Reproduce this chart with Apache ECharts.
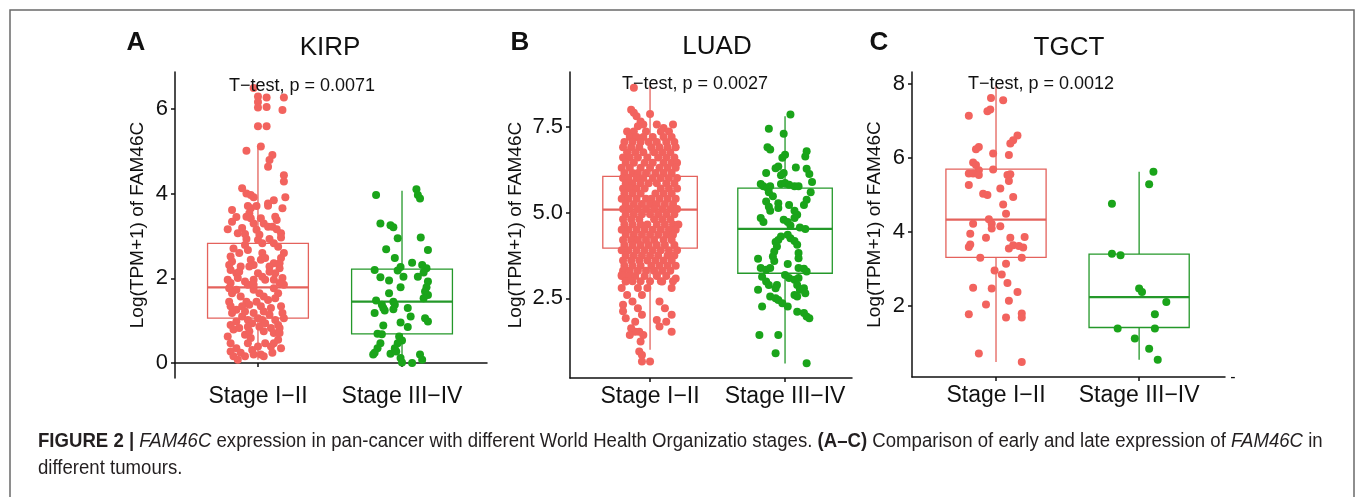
<!DOCTYPE html>
<html>
<head>
<meta charset="utf-8">
<script src="https://cdn.jsdelivr.net/npm/echarts@6/dist/echarts.min.js"></script>
<style>
  html, body { margin: 0; padding: 0; background: #fff; }
  #chart { width: 1357px; height: 497px; }
</style>
</head>
<body>
<div id="chart"></div>
<script>
// categories / labels
const categories = ['Stage I−II', 'Stage III−IV'];
const cancers = ['KIRP', 'LUAD', 'TGCT'];
const letters = ['A', 'B', 'C'];
const pValues = ['0.0071', '0.0027', '0.0012'];
const yTitle = 'Log(TPM+1) of FAM46C';

// y tick labels
const kirpTicks = [0, 2, 4, 6];
const luadTicks = [2.5, 5.0, 7.5];
const tgctTicks = [2, 4, 6, 8];

// box stats: [x, lower whisker, q1, median, q3, upper whisker]
const kirpBox = [[1, 0.08, 1.06, 1.79, 2.83, 5.10], [2, 0.0, 0.69, 1.45, 2.22, 4.07]];
const luadBox = [[1, 1.0, 3.96, 5.08, 6.05, 8.7], [2, 0.6, 3.23, 4.52, 5.71, 7.8]];
const tgctBox = [[1, 0.49, 3.31, 4.33, 5.69, 7.95], [2, 0.55, 1.42, 2.24, 3.40, 5.62]];

// jittered points [x, value]
const kirpEarly = [
  [0.97, 6.5], [1.0, 6.3], [1.06, 6.28], [1.18, 6.28], [1.0, 6.17], [1.06, 6.05], [1.0, 6.04], [1.17, 5.98],
  [1.0, 5.6], [1.06, 5.6], [1.02, 5.12], [0.92, 5.02], [1.10, 4.92], [1.08, 4.80], [1.07, 4.64],
  [1.18, 4.44], [1.18, 4.29], [0.89, 4.13], [0.92, 4.01], [0.95, 3.97], [0.97, 3.92], [1.19, 3.92],
  [1.17, 3.66], [1.11, 3.85], [1.07, 3.77], [1.07, 3.72], [0.93, 3.71], [0.95, 3.66], [0.99, 3.71],
  [0.82, 3.62], [0.85, 3.45], [0.92, 3.46], [0.94, 3.54], [0.95, 3.42], [1.04, 3.30], [1.07, 3.22],
  [1.10, 3.22], [1.13, 3.16], [1.16, 3.07], [1.16, 2.97], [0.89, 3.19], [0.86, 3.07], [0.79, 3.16],
  [0.99, 3.15], [1.01, 3.03], [1.0, 2.91], [1.03, 2.83], [1.08, 2.93], [1.11, 2.83], [1.14, 2.75],
  [0.92, 2.93], [0.91, 2.79], [0.93, 2.67], [1.18, 2.60], [0.83, 2.71], [0.87, 2.60], [0.81, 2.52],
  [1.03, 2.60], [1.02, 2.44], [1.05, 2.48], [0.95, 2.44], [0.97, 2.32], [0.94, 2.28], [1.11, 2.36],
  [1.15, 2.24], [1.12, 2.12], [0.81, 2.20], [0.85, 2.12], [0.86, 2.01], [1.0, 2.12], [1.03, 2.04],
  [1.05, 1.97], [0.91, 1.93], [0.93, 1.85], [1.17, 2.01], [1.18, 1.85], [0.80, 1.77], [0.82, 1.65],
  [0.85, 1.73], [0.97, 1.73], [1.01, 1.65], [1.04, 1.57], [1.07, 1.49], [1.11, 1.77], [1.14, 1.65],
  [1.12, 1.53], [0.88, 1.57], [0.92, 1.45], [0.94, 1.38], [0.80, 1.45], [0.81, 1.34], [0.85, 1.26],
  [0.82, 1.18], [1.02, 1.34], [1.04, 1.22], [1.08, 1.14], [1.09, 1.30], [1.16, 1.34], [1.17, 1.18],
  [1.18, 1.06], [0.89, 1.10], [0.93, 1.02], [0.96, 0.94], [0.81, 0.90], [0.83, 0.79], [1.01, 0.86],
  [1.04, 0.75], [1.09, 0.83], [1.11, 0.71], [0.91, 0.67], [0.95, 0.59], [0.93, 0.47], [0.79, 0.63],
  [0.81, 0.47], [0.85, 0.35], [1.05, 0.47], [1.09, 0.39], [1.11, 0.47], [1.16, 0.35], [1.14, 0.55],
  [0.88, 0.24], [0.91, 0.16], [1.02, 0.20], [1.04, 0.16], [0.81, 0.27], [0.83, 0.16], [1.10, 0.24],
  [0.86, 0.08], [0.96, 0.31], [0.97, 0.20], [1.0, 0.39], [0.79, 1.97], [0.81, 1.89], [0.88, 2.28],
  [0.87, 2.16], [1.08, 2.28], [1.08, 2.16], [0.97, 1.97], [0.97, 1.85], [1.11, 1.97], [1.15, 1.89],
  [0.89, 1.34], [0.91, 1.22], [0.99, 1.45], [0.97, 1.18], [1.0, 1.06], [1.12, 1.02], [1.14, 0.90],
  [0.85, 0.98], [0.87, 0.83], [1.03, 1.02], [1.05, 0.94], [0.93, 0.86], [0.94, 0.75], [1.15, 0.83],
  [1.15, 0.71], [0.82, 2.40], [0.80, 2.32], [1.16, 2.48], [1.15, 2.36], [1.13, 3.38], [1.12, 3.46],
  [1.02, 3.42], [0.97, 3.30], [0.82, 3.34], [0.91, 3.05]
];
const kirpLate = [
  [1.82, 3.97], [2.10, 4.11], [2.11, 3.97], [2.125, 3.89], [1.85, 3.30], [1.92, 3.26], [1.94, 3.21],
  [2.13, 2.97], [1.97, 2.95], [2.18, 2.67], [1.89, 2.69], [1.95, 2.48], [2.07, 2.37], [2.14, 2.32],
  [1.99, 2.27], [1.97, 2.19], [1.81, 2.20], [2.17, 2.24], [2.15, 2.14], [2.11, 2.04], [1.85, 2.03],
  [2.01, 2.04], [1.91, 1.95], [2.18, 1.93], [2.17, 1.79], [2.16, 1.69], [1.99, 1.79], [2.18, 1.61],
  [2.15, 1.53], [1.91, 1.65], [1.82, 1.48], [1.86, 1.38], [1.87, 1.30], [1.94, 1.45], [1.95, 1.38],
  [1.94, 1.27], [1.81, 1.18], [2.04, 1.30], [1.88, 1.24], [2.06, 1.10], [2.16, 1.06], [2.18, 0.98],
  [1.99, 0.96], [1.87, 0.89], [2.04, 0.85], [1.83, 0.69], [1.86, 0.68], [1.98, 0.63], [2.00, 0.53],
  [1.97, 0.47], [1.85, 0.47], [1.83, 0.35], [1.81, 0.24], [1.80, 0.20], [1.92, 0.22], [1.99, 0.12],
  [2.00, 0.01], [2.07, 0.0], [2.125, 0.20], [2.14, 0.08], [1.95, 0.35], [1.96, 0.27]
];
const luadEarly = [
  [0.88, 8.63], [1.0, 7.87], [0.86, 7.99], [0.88, 7.90], [0.90, 7.80], [0.93, 7.65], [0.95, 7.56],
  [0.91, 7.51], [1.05, 7.56], [1.10, 7.46], [1.17, 7.56],
  [0.83, 7.36], [0.88, 7.36], [0.97, 7.36], [1.08, 7.36], [1.14, 7.36],
  [0.85, 7.20], [0.90, 7.20], [0.95, 7.20], [1.02, 7.20], [1.10, 7.20], [1.16, 7.20],
  [0.81, 7.05], [0.87, 7.05], [0.93, 7.05], [0.99, 7.05], [1.05, 7.05], [1.12, 7.05], [1.18, 7.05],
  [0.80, 6.90], [0.86, 6.90], [0.92, 6.90], [1.01, 6.90], [1.07, 6.90], [1.13, 6.90], [1.19, 6.90],
  [0.83, 6.75], [0.89, 6.75], [0.95, 6.75], [1.03, 6.75], [1.09, 6.75], [1.15, 6.75],
  [0.80, 6.60], [0.85, 6.60], [0.91, 6.60], [0.98, 6.60], [1.06, 6.60], [1.12, 6.60], [1.18, 6.60],
  [0.82, 6.45], [0.88, 6.45], [0.96, 6.45], [1.02, 6.45], [1.10, 6.45], [1.16, 6.45], [1.20, 6.45],
  [0.79, 6.30], [0.85, 6.30], [0.93, 6.30], [1.00, 6.30], [1.07, 6.30], [1.13, 6.30], [1.19, 6.30],
  [0.81, 6.15], [0.87, 6.15], [0.91, 6.15], [0.97, 6.15], [1.04, 6.15], [1.10, 6.15], [1.16, 6.15],
  [0.80, 6.00], [0.84, 6.00], [0.90, 6.00], [0.95, 6.00], [1.02, 6.00], [1.08, 6.00], [1.14, 6.00], [1.20, 6.00],
  [0.82, 5.85], [0.87, 5.85], [0.93, 5.85], [0.99, 5.85], [1.05, 5.85], [1.12, 5.85], [1.18, 5.85],
  [0.80, 5.70], [0.85, 5.70], [0.90, 5.70], [0.96, 5.70], [1.08, 5.70], [1.14, 5.70], [1.20, 5.70],
  [0.81, 5.55], [0.87, 5.55], [0.93, 5.55], [1.04, 5.55], [1.10, 5.55], [1.16, 5.55],
  [0.79, 5.40], [0.84, 5.40], [0.90, 5.40], [0.97, 5.40], [1.01, 5.40], [1.07, 5.40], [1.13, 5.40], [1.19, 5.40],
  [0.82, 5.25], [0.88, 5.25], [0.94, 5.25], [1.00, 5.25], [1.05, 5.25], [1.11, 5.25], [1.17, 5.25],
  [0.80, 5.10], [0.85, 5.10], [0.91, 5.10], [0.97, 5.10], [1.03, 5.10], [1.09, 5.10], [1.15, 5.10], [1.20, 5.10],
  [0.82, 4.95], [0.88, 4.95], [0.94, 4.95], [1.00, 4.95], [1.06, 4.95], [1.12, 4.95], [1.18, 4.95],
  [0.80, 4.80], [0.86, 4.80], [0.92, 4.80], [1.03, 4.80], [1.09, 4.80], [1.15, 4.80],
  [0.81, 4.65], [0.87, 4.65], [0.93, 4.65], [0.98, 4.65], [1.05, 4.65], [1.11, 4.65], [1.17, 4.65], [1.21, 4.65],
  [0.79, 4.50], [0.84, 4.50], [0.90, 4.50], [0.96, 4.50], [1.02, 4.50], [1.08, 4.50], [1.14, 4.50], [1.19, 4.50],
  [0.82, 4.35], [0.88, 4.35], [0.94, 4.35], [1.00, 4.35], [1.06, 4.35], [1.12, 4.35], [1.17, 4.35],
  [0.80, 4.20], [0.86, 4.20], [0.91, 4.20], [0.97, 4.20], [1.03, 4.20], [1.10, 4.20], [1.16, 4.20],
  [0.81, 4.05], [0.87, 4.05], [0.93, 4.05], [0.99, 4.05], [1.05, 4.05], [1.11, 4.05], [1.18, 4.05],
  [0.79, 3.90], [0.84, 3.90], [0.90, 3.90], [0.96, 3.90], [1.02, 3.90], [1.08, 3.90], [1.14, 3.90], [1.20, 3.90],
  [0.82, 3.75], [0.88, 3.75], [0.94, 3.75], [1.00, 3.75], [1.06, 3.75], [1.13, 3.75], [1.18, 3.75],
  [0.80, 3.60], [0.86, 3.60], [0.92, 3.60], [0.98, 3.60], [1.04, 3.60], [1.10, 3.60], [1.16, 3.60],
  [0.81, 3.45], [0.87, 3.45], [0.93, 3.45], [1.01, 3.45], [1.07, 3.45], [1.13, 3.45], [1.19, 3.45],
  [0.80, 3.30], [0.85, 3.30], [0.91, 3.30], [0.97, 3.30], [1.03, 3.30], [1.09, 3.30], [1.15, 3.30],
  [0.79, 3.15], [0.84, 3.15], [0.89, 3.15], [0.96, 3.15], [1.05, 3.15], [1.12, 3.15],
  [0.82, 3.00], [0.87, 3.00], [0.93, 3.00], [1.00, 3.00], [1.08, 3.00], [1.17, 3.00],
  [0.79, 3.18], [0.82, 2.99], [0.79, 2.80], [0.83, 2.60], [0.87, 2.41], [0.80, 2.31], [0.91, 2.80],
  [0.94, 2.60], [0.98, 2.80], [1.05, 3.18], [1.09, 2.99], [1.16, 2.80], [1.19, 3.08], [1.07, 2.41],
  [1.11, 2.21], [1.16, 2.02], [0.91, 2.21], [0.94, 2.02], [0.89, 1.82], [0.80, 2.12], [0.82, 1.92],
  [1.05, 1.87], [1.07, 1.68], [1.12, 1.82], [1.16, 1.53], [0.92, 1.53], [0.95, 1.43], [0.93, 1.24],
  [0.92, 0.95], [0.94, 0.85], [0.94, 0.66], [1.0, 0.66], [0.89, 1.53], [0.86, 1.63], [0.85, 1.43]
];
const luadLate = [
  [2.04, 7.85], [1.88, 7.44], [1.99, 7.29], [1.87, 6.90], [1.89, 6.83], [2.00, 6.68], [1.98, 6.59],
  [2.16, 6.78], [2.15, 6.63], [1.95, 6.34], [1.93, 6.29], [2.08, 6.31], [2.16, 6.27], [1.86, 6.15],
  [1.97, 6.08], [1.99, 6.15], [2.18, 6.12], [2.20, 5.89], [1.82, 5.83], [1.84, 5.76], [1.87, 5.71],
  [1.89, 5.76], [1.97, 5.83], [2.00, 5.86], [2.03, 5.81], [2.07, 5.76], [2.10, 5.76], [1.88, 5.59],
  [1.91, 5.47], [2.19, 5.59], [2.16, 5.37], [2.14, 5.22], [1.86, 5.32], [1.88, 5.17], [1.89, 5.05],
  [1.95, 5.27], [1.95, 5.13], [2.03, 5.22], [2.07, 5.05], [2.09, 4.93], [2.07, 4.84], [1.82, 4.84],
  [1.84, 4.72], [1.99, 4.79], [2.02, 4.72], [2.04, 4.62], [2.11, 4.56], [2.15, 4.52], [1.97, 4.30],
  [1.95, 4.20], [1.93, 4.14], [1.94, 4.01], [2.02, 4.35], [2.04, 4.25], [2.07, 4.17], [2.09, 4.06],
  [2.10, 3.82], [2.10, 3.67], [1.92, 3.86], [1.91, 3.72], [1.92, 3.59], [1.80, 3.65], [2.02, 3.50],
  [1.82, 3.38], [1.86, 3.33], [1.89, 3.38], [2.10, 3.38], [2.14, 3.36], [2.16, 3.28], [2.00, 3.18],
  [1.83, 3.13], [1.86, 2.99], [1.88, 2.89], [2.03, 3.09], [2.07, 3.04], [2.10, 3.09], [1.94, 2.89],
  [1.93, 2.79], [2.09, 2.89], [2.11, 2.75], [1.80, 2.75], [1.89, 2.55], [1.93, 2.50], [1.95, 2.45],
  [2.07, 2.60], [2.09, 2.55], [2.14, 2.79], [2.15, 2.65], [1.98, 2.36], [2.02, 2.26], [1.83, 2.26],
  [2.09, 2.11], [2.14, 2.07], [2.16, 1.97], [2.18, 1.92], [1.81, 1.43], [1.95, 1.43], [1.93, 0.90],
  [2.16, 0.61]
];
const tgctEarly = [
  [0.965, 7.61], [1.05, 7.55], [0.94, 7.25], [0.96, 7.3], [0.81, 7.13], [1.15, 6.6], [1.12, 6.47],
  [1.10, 6.38], [0.88, 6.29], [0.86, 6.23], [0.98, 6.11], [1.09, 6.07], [0.84, 5.87], [0.86, 5.80],
  [0.88, 5.66], [0.81, 5.57], [0.84, 5.57], [0.88, 5.53], [0.98, 5.68], [1.08, 5.53], [1.10, 5.55],
  [1.09, 5.37], [0.81, 5.26], [1.03, 5.17], [0.91, 5.03], [0.94, 4.99], [1.12, 4.94], [1.05, 4.74],
  [1.07, 4.49], [0.95, 4.34], [0.97, 4.22], [0.97, 4.09], [0.84, 4.22], [1.03, 4.15], [0.82, 3.95],
  [0.93, 3.84], [1.10, 3.84], [1.20, 3.86], [0.82, 3.66], [0.81, 3.59], [1.09, 3.55], [1.12, 3.64],
  [1.16, 3.62], [1.19, 3.58], [0.89, 3.30], [1.18, 3.30], [1.07, 3.14], [0.99, 2.96], [1.04, 2.85],
  [1.08, 2.62], [0.84, 2.49], [0.97, 2.47], [1.15, 2.38], [1.09, 2.14], [0.93, 2.04], [0.81, 1.78],
  [1.07, 1.69], [1.18, 1.80], [1.18, 1.69], [0.88, 0.72], [1.18, 0.49]
];
const tgctLate = [
  [2.10, 5.62], [2.07, 5.28], [1.81, 4.76], [1.81, 3.41], [1.87, 3.37], [2.0, 2.47], [2.02, 2.38],
  [2.19, 2.11], [2.11, 1.78], [1.85, 1.39], [2.11, 1.39], [1.97, 1.12], [2.07, 0.85], [2.13, 0.55]
];

const RED = '#F2635E';
const GREEN = '#1AA41A';
const BOX_RED = '#E4625C';
const BOX_GREEN = '#24982A';
const INK = '#111';
const FONT = '"Liberation Sans", Arial, Helvetica, sans-serif';

const panels = [
  { grid: { left: 175, top: 72, width: 312, height: 306 }, x: [0.424, 2.59], y: [-0.354, 6.88], ticks: kirpTicks, nameGap: 28, dec: 0, box: kirpBox, early: kirpEarly, late: kirpLate },
  { grid: { left: 570, top: 72, width: 282, height: 306 }, x: [0.407, 2.496], y: [0.18, 9.09], ticks: luadTicks, nameGap: 45, dec: 1, box: luadBox, early: luadEarly, late: luadLate },
  { grid: { left: 912, top: 72, width: 313, height: 305 }, x: [0.413, 2.6], y: [0.085, 8.31], ticks: tgctTicks, nameGap: 28, dec: 0, box: tgctBox, early: tgctEarly, late: tgctLate }
];

const chart = echarts.init(document.getElementById('chart'));

function renderBox(params, api) {
  const x = api.value(0);
  const lo = api.value(1), q1 = api.value(2), med = api.value(3), q3 = api.value(4), hi = api.value(5);
  const hw = 0.35;
  const color = params.dataIndex === 0 ? BOX_RED : BOX_GREEN;
  const a = api.coord([x - hw, q3]);
  const b = api.coord([x + hw, q1]);
  const m1 = api.coord([x - hw, med]);
  const m2 = api.coord([x + hw, med]);
  const top = api.coord([x, hi]);
  const t0 = api.coord([x, q3]);
  const bot = api.coord([x, lo]);
  const b0 = api.coord([x, q1]);
  const st = { stroke: color, lineWidth: 1.3, fill: null };
  return {
    type: 'group',
    children: [
      { type: 'line', shape: { x1: top[0], y1: top[1], x2: t0[0], y2: t0[1] }, style: st },
      { type: 'line', shape: { x1: bot[0], y1: bot[1], x2: b0[0], y2: b0[1] }, style: st },
      { type: 'rect', shape: { x: a[0], y: a[1], width: b[0] - a[0], height: b[1] - a[1] }, style: st },
      { type: 'line', shape: { x1: m1[0], y1: m1[1], x2: m2[0], y2: m2[1] }, style: { stroke: color, lineWidth: 2.2 } }
    ]
  };
}

const grids = [], xAxes = [], yAxes = [], series = [], graphics = [];
panels.forEach((p, i) => {
  grids.push(p.grid);
  xAxes.push({
    type: 'value', gridIndex: i, min: p.x[0], max: p.x[1],
    axisLine: { lineStyle: { color: INK, width: 1.5 } },
    splitLine: { show: false },
    axisTick: { customValues: [1, 2], length: 4, lineStyle: { color: INK, width: 1.5 } },
    axisLabel: { customValues: [1, 2], formatter: v => categories[Math.round(v) - 1], color: INK, fontSize: 23, fontFamily: FONT, margin: 7 }
  });
  yAxes.push({
    type: 'value', gridIndex: i, min: p.y[0], max: p.y[1],
    name: yTitle, nameLocation: 'middle', nameRotate: 90, nameGap: p.nameGap,
    nameTextStyle: { color: INK, fontSize: 19, fontFamily: FONT },
    axisLine: { show: true, lineStyle: { color: INK, width: 1.5 } },
    splitLine: { show: false },
    axisTick: { show: true, customValues: p.ticks, length: 4, lineStyle: { color: INK, width: 1.5 } },
    axisLabel: { customValues: p.ticks, formatter: v => v.toFixed(p.dec), color: INK, fontSize: 22, fontFamily: FONT, margin: 7 }
  });
  series.push({
    type: 'custom', xAxisIndex: i, yAxisIndex: i, renderItem: renderBox, silent: true,
    encode: { x: 0, y: [1, 2, 3, 4, 5] }, data: p.box, z: 2
  });
  series.push({
    type: 'scatter', xAxisIndex: i, yAxisIndex: i, data: p.early, symbolSize: 8, silent: true,
    itemStyle: { color: RED, opacity: 1 }, z: 3
  });
  series.push({
    type: 'scatter', xAxisIndex: i, yAxisIndex: i, data: p.late, symbolSize: 8, silent: true,
    itemStyle: { color: GREEN, opacity: 1 }, z: 3
  });
});

// panel letters, titles, test annotations
const letterPos = [[136, 43], [520, 43], [879, 43]];
const titlePos = [[330, 48], [717, 47], [1069, 48]];
const pPos = [[302, 86], [695, 84], [1041, 84]];
letters.forEach((l, i) => {
  graphics.push({ type: 'text', x: letterPos[i][0], y: letterPos[i][1], z: 10,
    style: { text: l, fill: INK, fontSize: 26, fontWeight: 'bold', fontFamily: FONT, align: 'center', verticalAlign: 'middle' } });
  graphics.push({ type: 'text', x: titlePos[i][0], y: titlePos[i][1], z: 10,
    style: { text: cancers[i], fill: INK, fontSize: 26, fontFamily: FONT, align: 'center', verticalAlign: 'middle' } });
  graphics.push({ type: 'text', x: pPos[i][0], y: pPos[i][1], z: 10,
    style: { text: 'T−test, p = ' + pValues[i], fill: INK, fontSize: 18, fontFamily: FONT, align: 'center', verticalAlign: 'middle' } });
});
graphics.push({ type: 'text', x: 1233, y: 378, style: { text: '-', fill: INK, fontSize: 16, fontFamily: FONT, align: 'center', verticalAlign: 'middle' } });

// frame
graphics.push({ type: 'rect', shape: { x: 10, y: 10, width: 1344, height: 500 }, z: 0,
  style: { fill: null, stroke: '#6a6a6a', lineWidth: 1.5 } });

// caption (condensed look via horizontal scale)
const CAP = '"Liberation Sans", Arial, sans-serif';
const CAP_SIZE = 20;
graphics.push({ type: 'text', x: 38, y: 441, z: 10, scaleX: 0.93,
  style: {
    text: '{b|FIGURE 2 |} {i|FAM46C} expression in pan-cancer with different World Health Organizatio stages. {b|(A–C)} Comparison of early and late expression of {i|FAM46C} in',
    fill: '#231F20', fontSize: CAP_SIZE, fontFamily: CAP, verticalAlign: 'middle',
    rich: {
      b: { fontWeight: 'bold', fontSize: CAP_SIZE, fontFamily: CAP, fill: '#231F20' },
      i: { fontStyle: 'italic', fontSize: CAP_SIZE, fontFamily: CAP, fill: '#231F20' }
    }
  } });
graphics.push({ type: 'text', x: 38, y: 468, z: 10, scaleX: 0.93,
  style: { text: 'different tumours.', fill: '#231F20', fontSize: CAP_SIZE, fontFamily: CAP, verticalAlign: 'middle' } });

chart.setOption({
  animation: false,
  backgroundColor: '#fff',
  grid: grids,
  xAxis: xAxes,
  yAxis: yAxes,
  series: series,
  graphic: graphics
});
</script>
</body>
</html>
